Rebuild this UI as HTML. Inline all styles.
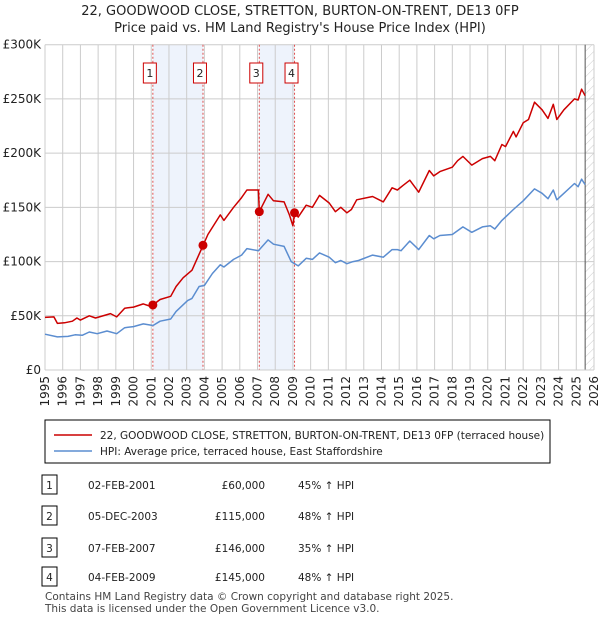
<!DOCTYPE html>
<html><head><meta charset="utf-8"><style>
body{margin:0;background:#fff;font-family:"Liberation Sans","DejaVu Sans",sans-serif;}
svg text{font-family:"DejaVu Sans","Liberation Sans",sans-serif;}
</style></head><body>
<svg id="c" width="600" height="620" xmlns="http://www.w3.org/2000/svg">
<defs><pattern id="hatch" width="6" height="6" patternUnits="userSpaceOnUse" patternTransform="rotate(45)"><line x1="0" y1="0" x2="0" y2="6" stroke="#ccc" stroke-width="1"/></pattern></defs>
<text x="300" y="15" text-anchor="middle" font-size="13" fill="#222">22, GOODWOOD CLOSE, STRETTON, BURTON-ON-TRENT, DE13 0FP</text>
<text x="300" y="32" text-anchor="middle" font-size="13" fill="#222">Price paid vs. HM Land Registry's House Price Index (HPI)</text>
<g id="plot"></g>
<rect x="45" y="420" width="505" height="43" fill="#fff" stroke="#000" stroke-width="1"/>
<line x1="54" y1="435" x2="92" y2="435" stroke="#cc0000" stroke-width="1.5"/>
<text x="100" y="439" font-size="10.5" fill="#222">22, GOODWOOD CLOSE, STRETTON, BURTON-ON-TRENT, DE13 0FP (terraced house)</text>
<line x1="54" y1="451" x2="92" y2="451" stroke="#5b8dd0" stroke-width="1.5"/>
<text x="100" y="455" font-size="10.5" fill="#222">HPI: Average price, terraced house, East Staffordshire</text>
<g id="table" font-size="11" fill="#222"></g>
<text x="45" y="600" font-size="10.5" fill="#444">Contains HM Land Registry data © Crown copyright and database right 2025.</text>
<text x="45" y="612" font-size="10.5" fill="#444">This data is licensed under the Open Government Licence v3.0.</text>
</svg>
<script>
const hpiYears=[1995,1995.7,1996.3,1996.7,1997.1,1997.5,1997.95,1998.5,1999.05,1999.5,2000,2000.55,2001.1,2001.5,2002.1,2002.4,2003.05,2003.3,2003.7,2004.0,2004.45,2004.9,2005.1,2005.65,2006.1,2006.4,2007.05,2007.6,2007.9,2008.5,2008.9,2009.3,2009.75,2010.1,2010.5,2011.05,2011.4,2011.7,2012.05,2012.4,2012.7,2013.5,2014.1,2014.6,2014.9,2015.1,2015.6,2016.1,2016.7,2016.95,2017.3,2018,2018.6,2019.1,2019.7,2020.15,2020.4,2020.8,2021.45,2022,2022.64,2023.07,2023.4,2023.7,2023.9,2024.3,2024.9,2025.1,2025.3,2025.5];
const hpiValues=[33,30.5,31,32.5,32,35,33.5,36,33.5,39,40,42.5,41,45,47,54,64,66,77,78,89,97,95,102,106,112,110,120,116,114,100,96,103,102,108,104,99,101,98,100,101,106,104,111,111,110,119,111,124,121,124,125,132,127,132,133,130,138,148,156,167,163,158,166,157,163,172,169,176,171];
const priceYears=[1995,1995.5,1995.7,1996.1,1996.55,1996.8,1997,1997.5,1997.85,1998.7,1999.05,1999.5,2000,2000.55,2000.9,2001.1,2001.5,2002.1,2002.4,2002.8,2003.3,2003.9,2004.2,2004.9,2005.1,2005.65,2006.1,2006.4,2007.05,2007.1,2007.6,2007.9,2008.5,2008.8,2009.0,2009.1,2009.3,2009.75,2010.1,2010.5,2011.05,2011.4,2011.7,2012.05,2012.3,2012.6,2013.5,2014.1,2014.6,2014.9,2015.2,2015.6,2016.1,2016.7,2016.95,2017.3,2018,2018.3,2018.6,2019.1,2019.7,2020.15,2020.4,2020.8,2021.0,2021.45,2021.6,2022,2022.3,2022.64,2023.07,2023.4,2023.7,2023.9,2024.3,2024.9,2025.1,2025.3,2025.5];
const priceValues=[48.5,49,43,43.5,45,48,46,50,48,52,49,57,58,61,59,60,65,68,77,85,92,114,125,143,138,150,159,166,166,146,162,156,155,143,133,146,141,152,150,161,154,146,150,145,148,157,160,155,168,166,170,175,164,184,179,183,187,193,197,189,195,197,193,208,206,220,215,228,231,247,240,232,245,231,240,250,249,259,253];
const saleYears=[2001.09,2003.92,2007.1,2009.09];
const saleValues=[60,115,146,145];
const saleDates=["02-FEB-2001","05-DEC-2003","07-FEB-2007","04-FEB-2009"];
const salePrices=["£60,000","£115,000","£146,000","£145,000"];
const salePct=["45% ↑ HPI","48% ↑ HPI","35% ↑ HPI","48% ↑ HPI"];
const yTicks=[0,50,100,150,200,250,300];
const yTickLabels=["£0","£50K","£100K","£150K","£200K","£250K","£300K"];
const xTicks=[1995,1996,1997,1998,1999,2000,2001,2002,2003,2004,2005,2006,2007,2008,2009,2010,2011,2012,2013,2014,2015,2016,2017,2018,2019,2020,2021,2022,2023,2024,2025,2026];

const NS="http://www.w3.org/2000/svg";
const L=45,R=594,T=44.7,B=370;
const xs=y=>L+(y-1995)/(2026-1995)*(R-L);
const ys=v=>B-v/300*(B-T);
const g=document.getElementById('plot');
function mk(tag,attrs,parent){const e=document.createElementNS(NS,tag);for(const k in attrs)e.setAttribute(k,attrs[k]);(parent||g).appendChild(e);return e;}
for(const [a,b] of [[0,1],[2,3]]){
  const r=mk('rect',{x:xs(saleYears[a]),y:T,width:xs(saleYears[b])-xs(saleYears[a]),height:B-T,fill:'#eef3fc'});
  
  
}
const h=mk('rect',{x:xs(2025.5),y:T,width:R-xs(2025.5),height:B-T,fill:'url(#hatch)'});


xTicks.forEach(t=>{
  const l=mk('line',{x1:xs(t),x2:xs(t),y1:T,y2:B,stroke:'#ccc','stroke-width':1});
  
  
  const tx=mk('text',{x:0,y:0,'font-size':12,fill:'#222','text-anchor':'end',transform:`translate(${xs(t)+4},${B+6}) rotate(-90)`});
  tx.textContent=t;
  
  
});
yTicks.forEach((t,i)=>{
  const l=mk('line',{x1:L,x2:R,y1:ys(t),y2:ys(t),stroke:'#ccc','stroke-width':1});
  
  
  const tx=mk('text',{x:L-4,y:ys(t)+4,'font-size':12,fill:'#222','text-anchor':'end'});
  tx.textContent=yTickLabels[i];
  
  
});
const vl=mk('line',{x1:xs(2025.5),x2:xs(2025.5),y1:T,y2:B,stroke:'#555','stroke-width':1});


saleYears.forEach((y,i)=>{
  const l=mk('line',{x1:xs(y),x2:xs(y),y1:T,y2:B,stroke:'#e05050','stroke-width':1,'stroke-dasharray':'2,2'});
  
  
  const r=mk('rect',{x:xs(y)-9.5,y:63,width:13,height:20,fill:'#fff',stroke:'#cc0000','stroke-width':1});
  
  
  const t=mk('text',{x:xs(y)-3,y:77,'font-size':11,fill:'#222','text-anchor':'middle'});
  t.textContent=i+1;
  
  
});
function line(xa,va,col,name){
  const d=xa.map((x,i)=>(i?'L':'M')+xs(x).toFixed(1)+','+ys(va[i]).toFixed(1)).join('');
  const p=mk('path',{d:d,fill:'none',stroke:col,'stroke-width':1.5,'stroke-linejoin':'round'});
  
  
}
line(hpiYears,hpiValues,'#5b8dd0','hpi-line');
line(priceYears,priceValues,'#cc0000','price-line');
saleYears.forEach((y,i)=>{
  const c=mk('circle',{cx:xs(y),cy:ys(saleValues[i]),r:4.5,fill:'#cc0000'});
  
  
});
mk('line',{x1:L,x2:R,y1:B,y2:B,stroke:'#ccc'});
const tb=document.getElementById('table');
const rowY=[486,517,549,578];
rowY.forEach((y,i)=>{
  const r=mk('rect',{x:42,y:y-11,width:15,height:19,fill:'#fff',stroke:'#000'},tb);
  
  
  const cells=[[49.5,String(i+1),'middle'],[88,saleDates[i],'start'],[265,salePrices[i],'end'],[298,salePct[i],'start']];
  cells.forEach(([x,s,a])=>{
    const t=mk('text',{x:x,y:y+3,'text-anchor':a,'font-size':10.5},tb);
    t.textContent=s;
    
    
  });
});
</script>
</body></html>
